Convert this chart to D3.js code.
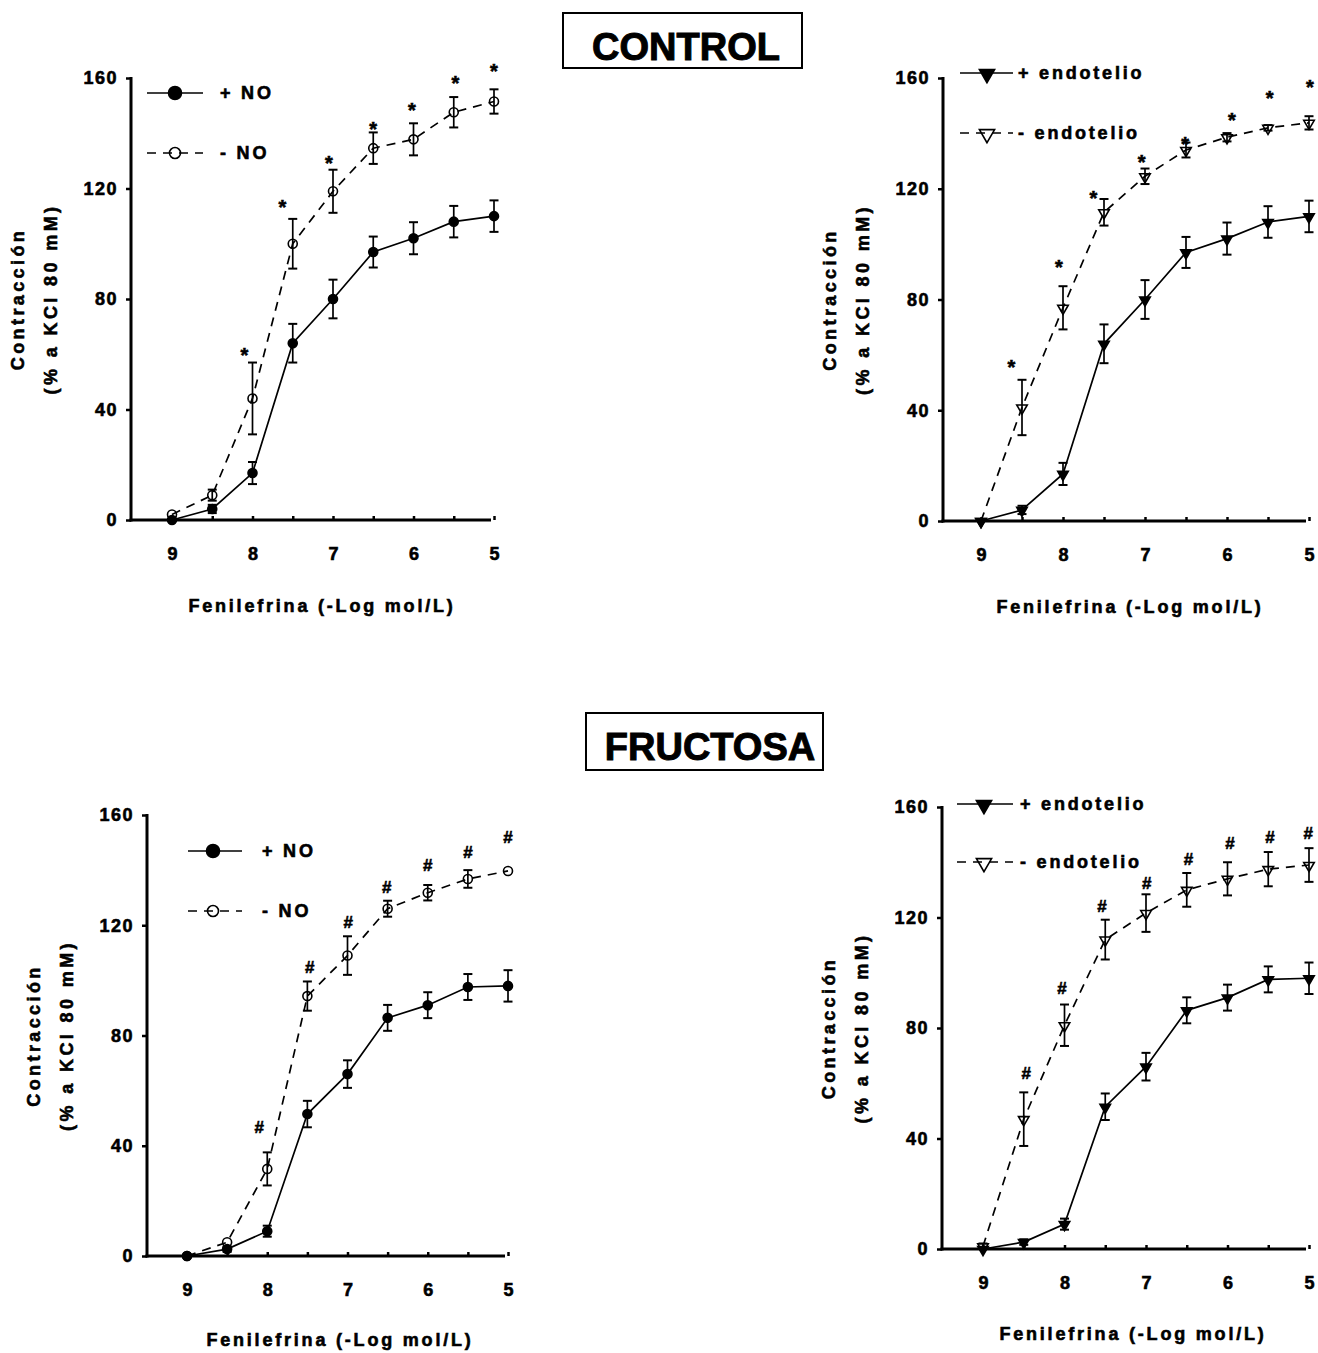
<!DOCTYPE html>
<html>
<head>
<meta charset="utf-8">
<script src="https://cdn.jsdelivr.net/npm/d3@7"></script>
<style>
  body { margin: 0; background: #fff; }
  svg { display: block; font-family: "Liberation Sans", Arial, sans-serif; font-weight: bold; }
  svg text { stroke: #000; stroke-width: 0.6px; }
</style>
</head>
<body>
<svg id="chart" width="1318" height="1353"></svg>
<script>
// dose axis (-log mol/L) and tick labels
const doses = [9, 8.5, 8, 7.5, 7, 6.5, 6, 5.5, 5];
const xTickLabels = [9, 8, 7, 6, 5];
const yTicks = [0, 40, 80, 120, 160];

// CONTROL: with NO / with endothelium (same curve in both panels)
const ctrlWith = [0, 4, 17, 64, 80, 97, 102, 108, 110];
const ctrlWithErr = [0, 1.5, 4, 7, 7, 5.6, 5.8, 5.7, 5.7];
// CONTROL: without NO
const ctrlNoNO = [2, 9, 44, 100, 119, 134.6, 137.8, 147.6, 151.5];
const ctrlNoNOErr = [0.5, 2, 13, 9, 7.8, 5.7, 5.8, 5.5, 4.4];
// CONTROL: without endothelium
const ctrlNoEndo = [0, 41, 77, 111.5, 124.5, 134, 138.6, 142, 143.8];
const ctrlNoEndoErr = [0, 10, 7.8, 4.8, 2.8, 2.7, 1.5, 1, 2.4];

// FRUCTOSA: with NO / with endothelium
const fruWith = [0, 2.5, 9, 51.5, 66, 86.4, 91, 97.6, 98];
const fruWithErr = [0, 1, 2, 4.8, 5, 4.7, 4.7, 4.7, 5.7];
// FRUCTOSA: without NO
const fruNoNO = [0, 5, 31.6, 94.3, 109, 126, 131.8, 136.8, 139.7];
const fruNoNOErr = [0, 0.8, 6, 5.3, 7, 2.9, 2.8, 3.2, 0.5];
// FRUCTOSA: without endothelium
const fruNoEndo = [1, 47, 81, 112, 121.6, 130, 134, 137.5, 139];
const fruNoEndoErr = [1, 9.7, 7.5, 7.2, 6.8, 6.1, 6, 6.2, 6.1];

// significance marks (x in -log units, y in % units)
const ctrlNOStarX = [8.1, 7.63, 7.05, 6.5, 6.02, 5.48, 5.0];
const ctrlNOStarY = [61.5, 114.8, 131, 143.3, 150, 160, 164.3];
const ctrlEndoStarX = [8.63, 8.05, 7.63, 7.04, 6.51, 5.94, 5.48, 4.99];
const ctrlEndoStarY = [57.4, 93.5, 118.4, 131.4, 137.9, 146.6, 154.5, 158.5];
const fruNOHashX = [8.1, 7.47, 6.99, 6.51, 6.0, 5.5, 5.0];
const fruNOHashY = [46.8, 104.9, 121.2, 133.9, 141.9, 146.6, 152];
const fruEndoHashX = [8.47, 8.03, 7.54, 6.99, 6.48, 5.97, 5.48, 5.01];
const fruEndoHashY = [63.7, 94.5, 124.2, 132.5, 141.2, 147, 149.1, 150.6];

const svg = d3.select("#chart");

// group titles
function drawTitle(label, x0, x1, y0, y1, tx, ty) {
  svg.append("rect")
    .attr("x", x0).attr("y", y0)
    .attr("width", x1 - x0).attr("height", y1 - y0)
    .attr("fill", "none").attr("stroke", "#000").attr("stroke-width", 2);
  svg.append("text")
    .attr("x", tx).attr("y", ty)
    .attr("text-anchor", "middle")
    .attr("font-size", 38)
    .style("stroke-width", "1px")
    .text(label);
}
drawTitle("CONTROL", 563, 802, 13, 68, 686, 60);
drawTitle("FRUCTOSA", 586, 823, 713, 770, 710, 760);

function drawMarker(g, shape, filled, x, y, big) {
  if (shape === "circle") {
    g.append("circle")
      .attr("cx", x).attr("cy", y)
      .attr("r", big ? (filled ? 6.5 : 5.5) : 4.5)
      .attr("fill", filled ? "#000" : "none")
      .attr("stroke", "#000").attr("stroke-width", 1.6);
  } else {
    g.append("path")
      .attr("d", d3.symbol().type(d3.symbolTriangle).size(big ? 100 : 48)())
      .attr("transform", `translate(${x},${y + (big ? 1 : 0.5)}) rotate(180)`)
      .attr("fill", filled ? "#000" : "none")
      .attr("stroke", "#000").attr("stroke-width", 1.6);
  }
}

function drawPanel(p) {
  const x = d3.scaleLinear().domain([9, 5]).range([p.x9, p.x5]);
  const y = d3.scaleLinear().domain([0, 160]).range([p.y0, p.y160]);
  const g = svg.append("g");

  // y axis
  const yAxis = d3.axisLeft(y).tickValues(yTicks).tickSize(5).tickPadding(8);
  const ya = g.append("g").attr("transform", `translate(${p.axisX},0)`).call(yAxis);
  ya.select(".domain").attr("d", `M0,${p.y160 - 1}V${p.y0 + 1.5}`).attr("stroke-width", 3);
  ya.selectAll(".tick line").attr("stroke-width", 2.5);
  ya.selectAll(".tick text")
    .attr("font-size", 18).attr("font-family", "Liberation Sans, Arial, sans-serif")
    .attr("font-weight", "bold").attr("letter-spacing", 1.5).attr("fill", "#000");

  // x axis: ticks inward, labels only on integers
  const xAxis = d3.axisBottom(x).tickValues(doses).tickSize(-4).tickPadding(27)
    .tickFormat(d => xTickLabels.includes(d) ? d : "");
  const xa = g.append("g").attr("transform", `translate(0,${p.y0})`).call(xAxis);
  xa.select(".domain").attr("d", `M${p.axisX - 1.5},0H${p.x5 - 3}`).attr("stroke-width", 3);
  xa.selectAll(".tick line").attr("stroke-width", 2.5);
  xa.selectAll(".tick text")
    .attr("font-size", 18).attr("font-family", "Liberation Sans, Arial, sans-serif")
    .attr("font-weight", "bold").attr("fill", "#000");

  // axis titles
  g.append("text")
    .attr("x", p.xLabelX).attr("y", p.xLabelY)
    .attr("text-anchor", "middle").attr("font-size", 18).attr("letter-spacing", 2.8)
    .text("Fenilefrina (-Log mol/L)");
  const yc = (p.y0 + p.y160) / 2;
  [["Contracción", p.axisX - 113], ["(% a KCl 80 mM)", p.axisX - 80]].forEach(([t, tx]) => {
    g.append("text")
      .attr("transform", `translate(${tx},${yc}) rotate(-90)`)
      .attr("text-anchor", "middle").attr("dominant-baseline", "central")
      .attr("font-size", 18).attr("letter-spacing", 3.4)
      .text(t);
  });

  const series = [
    { vals: p.open, err: p.openErr, filled: false, dash: "9,7" },
    { vals: p.solid, err: p.solidErr, filled: true, dash: null }
  ];

  series.forEach(s => {
    const pts = doses.map((d, i) => [x(d), y(s.vals[i])]);
    g.append("path")
      .attr("d", d3.line()(pts))
      .attr("fill", "none").attr("stroke", "#000").attr("stroke-width", 1.7)
      .attr("stroke-dasharray", s.dash);
  });

  series.forEach(s => {
    doses.forEach((d, i) => {
      const cx = x(d);
      const e = s.err[i];
      if (e > 0.8) {
        const yt = y(s.vals[i] + e), yb = y(s.vals[i] - e);
        g.append("line").attr("x1", cx).attr("x2", cx).attr("y1", yt).attr("y2", yb)
          .attr("stroke", "#000").attr("stroke-width", 1.7);
        [yt, yb].forEach(yy => {
          g.append("line").attr("x1", cx - 4.5).attr("x2", cx + 4.5).attr("y1", yy).attr("y2", yy)
            .attr("stroke", "#000").attr("stroke-width", 2);
        });
      }
      drawMarker(g, p.shape, s.filled, cx, y(s.vals[i]), false);
    });
  });

  // significance marks
  p.sigX.forEach((sx, i) => {
    g.append("text")
      .attr("x", x(sx)).attr("y", y(p.sigY[i]))
      .attr("text-anchor", "middle")
      .attr("dy", p.sigChar === "*" ? "0.58em" : "0.36em")
      .attr("font-size", p.sigChar === "*" ? 20 : 17)
      .text(p.sigChar);
  });

  // legend
  const L = p.legend;
  [[L.y1, true, null, "+ " + p.legendName], [L.y2, false, "9,7", "- " + p.legendName]].forEach(([ly, filled, dash, label]) => {
    g.append("line").attr("x1", L.x0).attr("x2", L.x1).attr("y1", ly).attr("y2", ly)
      .attr("stroke", "#000").attr("stroke-width", 1.7).attr("stroke-dasharray", dash);
    drawMarker(g, p.shape, filled, L.xm, ly, true);
    g.append("text")
      .attr("x", L.xt).attr("y", ly)
      .attr("dominant-baseline", "central")
      .attr("font-size", 18).attr("letter-spacing", 2.8)
      .text(label);
  });
}

drawPanel({
  axisX: 131, x9: 172, x5: 494, y0: 520, y160: 78,
  xLabelX: 322, xLabelY: 612,
  shape: "circle", legendName: "NO",
  solid: ctrlWith, solidErr: ctrlWithErr, open: ctrlNoNO, openErr: ctrlNoNOErr,
  sigX: ctrlNOStarX, sigY: ctrlNOStarY, sigChar: "*",
  legend: { x0: 147, x1: 203, xm: 175, xt: 220, y1: 93, y2: 153 }
});
drawPanel({
  axisX: 943, x9: 981, x5: 1309, y0: 521, y160: 78,
  xLabelX: 1130, xLabelY: 613,
  shape: "triangle", legendName: "endotelio",
  solid: ctrlWith, solidErr: ctrlWithErr, open: ctrlNoEndo, openErr: ctrlNoEndoErr,
  sigX: ctrlEndoStarX, sigY: ctrlEndoStarY, sigChar: "*",
  legend: { x0: 960, x1: 1013, xm: 987, xt: 1018, y1: 73, y2: 133 }
});
drawPanel({
  axisX: 147, x9: 187, x5: 508, y0: 1256, y160: 815,
  xLabelX: 340, xLabelY: 1346,
  shape: "circle", legendName: "NO",
  solid: fruWith, solidErr: fruWithErr, open: fruNoNO, openErr: fruNoNOErr,
  sigX: fruNOHashX, sigY: fruNOHashY, sigChar: "#",
  legend: { x0: 188, x1: 242, xm: 213, xt: 262, y1: 851, y2: 911 }
});
drawPanel({
  axisX: 942, x9: 983, x5: 1309, y0: 1249, y160: 807,
  xLabelX: 1133, xLabelY: 1340,
  shape: "triangle", legendName: "endotelio",
  solid: fruWith, solidErr: fruWithErr, open: fruNoEndo, openErr: fruNoEndoErr,
  sigX: fruEndoHashX, sigY: fruEndoHashY, sigChar: "#",
  legend: { x0: 957, x1: 1013, xm: 984, xt: 1020, y1: 804, y2: 862 }
});
</script>
</body>
</html>
